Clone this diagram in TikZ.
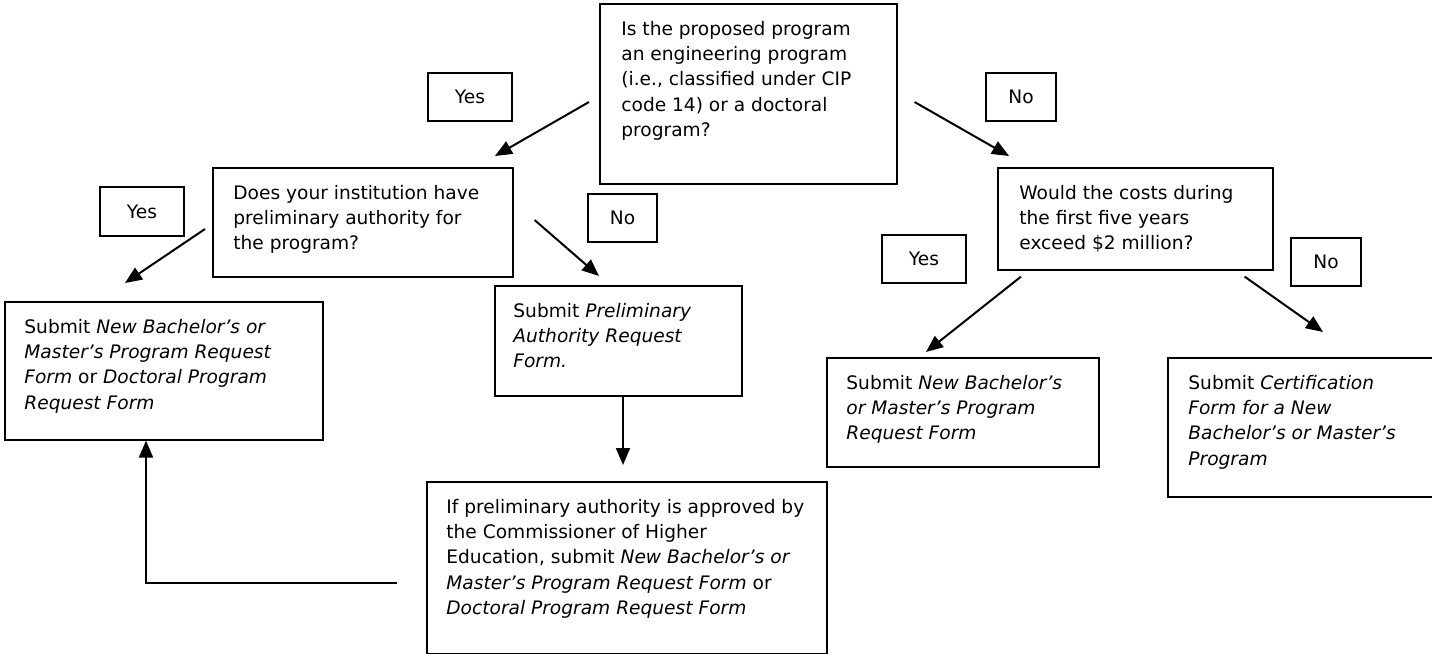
\documentclass[tikz,border=0pt]{standalone}
\usepackage{fontspec}
\setmainfont{DejaVu Sans}
\usetikzlibrary{arrows.meta,calc}

\begin{document}
\begin{tikzpicture}[x=0.5pt, y=-0.5pt, >={Triangle[length=8.5pt,width=7pt]},
	every node/.style={font=\fontsize{9.3}{12.65}\selectfont},
	box/.style={draw, line width=0.8pt, anchor=north west, inner sep=0pt},
	tag/.style={draw, line width=0.7pt, inner sep=0pt, minimum height=24pt},
	txt/.style={anchor=north west, align=left, inner sep=0pt},
	arr/.style={->, line width=1pt}]

	\useasboundingbox (0,0) rectangle (1432,654);

	\node[box, minimum width=148.5pt, minimum height=90pt] (q1) at (599,3) {};
	\node[txt] (q1txt) at ($(q1.north west)+(22,14)$) {\strut Is the proposed program\\an engineering program\\(i.e., classified under CIP\\code 14) or a doctoral\\program?};

	\node[box, minimum width=150pt, minimum height=54.5pt] (q2) at (212,167) {};
	\node[txt] (q2txt) at ($(q2.north west)+(21,14)$) {\strut Does your institution have\\preliminary authority for\\the program?};

	\node[box, minimum width=137.5pt, minimum height=51pt] (q3) at (997,167) {};
	\node[txt] (q3txt) at ($(q3.north west)+(22,14)$) {\strut Would the costs during\\the first five years\\exceed \$2 million?};

	\node[box, minimum width=159pt, minimum height=69pt] (r1) at (4,301) {};
	\node[txt] (r1txt) at ($(r1.north west)+(20,14)$) {\strut Submit \textit{New Bachelor’s or}\\\textit{Master’s Program Request}\\\textit{Form} or \textit{Doctoral Program}\\\textit{Request Form}};

	\node[box, minimum width=123.5pt, minimum height=55pt] (r2) at (494,285) {};
	\node[txt] (r2txt) at ($(r2.north west)+(19,14)$) {\strut Submit \textit{Preliminary}\\\textit{Authority Request}\\\textit{Form.}};

	\node[box, minimum width=200pt, minimum height=86pt] (r4) at (426,481) {};
	\node[txt] (r4txt) at ($(r4.north west)+(20,14)$) {\strut If preliminary authority is approved by\\the Commissioner of Higher\\Education, submit \textit{New Bachelor’s or}\\\textit{Master’s Program Request Form} or\\\textit{Doctoral Program Request Form}};

	\node[box, minimum width=136pt, minimum height=54.5pt] (r3) at (826,357) {};
	\node[txt] (r3txt) at ($(r3.north west)+(20,14)$) {\strut Submit \textit{New Bachelor’s}\\\textit{or Master’s Program}\\\textit{Request Form}};

	\node[box, minimum width=135pt, minimum height=69.5pt] (r5) at (1167,357) {};
	\node[txt] (r5txt) at ($(r5.north west)+(21,14)$) {\strut Submit \textit{Certification}\\\textit{Form for a New}\\\textit{Bachelor’s or Master’s}\\\textit{Program}};

	\node[tag, minimum width=42pt] (yes1) at (470,97) {Yes};
	\node[tag, minimum width=35pt] (no1) at (1021,97) {No};
	\node[tag, minimum width=42pt, minimum height=24.5pt] (yes2) at (142,211.5) {Yes};
	\node[tag, minimum width=34.5pt] (no2) at (622.5,218) {No};
	\node[tag, minimum width=42pt] (yes3) at (924,259) {Yes};
	\node[tag, minimum width=35pt] (no3) at (1326,262) {No};

	\draw[arr] ($(q1.north west)+(-10,99)$) -- ($(q2.north west)+(283,-11)$);
	\draw[arr] ($(q1.north east)+(17,99)$) -- ($(q3.north west)+(12,-11)$);
	\draw[arr] ($(q2.north west)+(-7,62)$) -- ($(r1.north west)+(121,-18)$);
	\draw[arr] ($(q2.north east)+(21,53)$) -- ($(r2.north west)+(105,-9)$);
	\draw[arr] ($(r2.south west)+(129,0)$) -- ($(r4.north west)+(197,-16)$);
	\draw[arr] ($(q3.south west)+(24,6)$) -- ($(r3.north west)+(100,-5)$);
	\draw[arr] ($(q3.south east)+(-29,6)$) -- ($(r5.north west)+(156,-25)$);

	\coordinate (bend) at (146,583);
	\draw[arr, shorten <=14.5pt] (r4.west |- bend) -| (r1.south -| bend);
\end{tikzpicture}
\end{document}
